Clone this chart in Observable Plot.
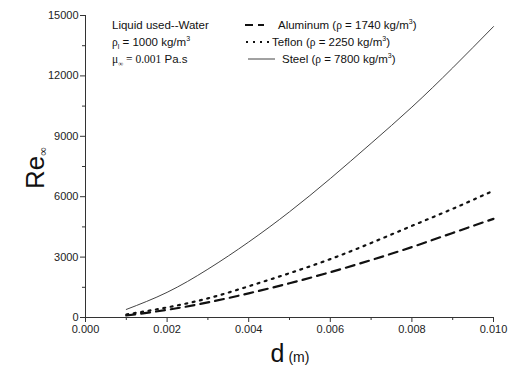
<!DOCTYPE html>
<html><head><meta charset="utf-8">
<script src="https://cdn.jsdelivr.net/npm/d3@7"></script>
<script src="https://cdn.jsdelivr.net/npm/@observablehq/plot@0.6"></script>
<style>
body{margin:0;background:#fff}
svg{font-family:"Liberation Sans",Arial,sans-serif}
</style>
</head><body><div id="chart"></div>
<script>
const diameters = [0.001, 0.002, 0.003, 0.004, 0.005, 0.006, 0.007, 0.008, 0.009, 0.010];
const aluminum = [100, 380, 750, 1200, 1700, 2250, 2850, 3500, 4200, 4900];
const teflon   = [150, 500, 950, 1550, 2200, 2900, 3700, 4550, 5400, 6300];
const steel    = [400, 1250, 2400, 3750, 5250, 6900, 8650, 10450, 12400, 14450];
const seriesNames = ["Aluminum", "Teflon", "Steel"];
const densities = ["1740", "2250", "7800"];
const yMajorTicks = [0, 3000, 6000, 9000, 12000, 15000];
const yMinorTicks = [1500, 4500, 7500, 10500, 13500];
const xMajorTicks = [0, 0.002, 0.004, 0.006, 0.008, 0.010];
const xMinorTicks = [0.001, 0.003, 0.005, 0.007, 0.009];

const rows = (vals, name) => diameters.map((d, i) => ({d, re: vals[i], series: name}));
const alRows = rows(aluminum, seriesNames[0]);
const tfRows = rows(teflon, seriesNames[1]);
const stRows = rows(steel, seriesNames[2]);

const plot = Plot.plot({
  width: 510, height: 375,
  marginLeft: 85, marginRight: 17, marginTop: 15, marginBottom: 58,
  style: {fontFamily: '"Liberation Sans", Arial, sans-serif', fontSize: "11px", color: "#222", background: "#fff"},
  x: {domain: [0, 0.010]},
  y: {domain: [0, 15000]},
  marks: [
    Plot.axisY({ticks: yMajorTicks, tickSize: 5, tickPadding: 2, tickFormat: d => String(d), label: null, stroke: "#333"}),
    Plot.axisY({ticks: yMinorTicks, tickSize: 3, tickFormat: () => "", label: null, stroke: "#333"}),
    Plot.axisX({ticks: xMajorTicks, tickSize: 5, tickPadding: 3, tickFormat: d3.format(".3f"), label: null, stroke: "#333"}),
    Plot.axisX({ticks: xMinorTicks, tickSize: 3, tickFormat: () => "", label: null, stroke: "#333"}),
    Plot.ruleX([0], {stroke: "#333", strokeWidth: 1}),
    Plot.ruleY([0], {stroke: "#333", strokeWidth: 1}),
    Plot.line(stRows, {x: "d", y: "re", stroke: "#444", strokeWidth: 1, curve: "natural"}),
    Plot.line(tfRows, {x: "d", y: "re", stroke: "#111", strokeWidth: 2.2, strokeDasharray: "2,5.5", curve: "natural"}),
    Plot.line(alRows, {x: "d", y: "re", stroke: "#111", strokeWidth: 2.2, strokeDasharray: "9,6", curve: "natural"})
  ]
});
document.getElementById("chart").appendChild(plot);

const svg = d3.select(plot);
const serif = '"Liberation Serif", "Times New Roman", serif';

// Axis titles
const xt = svg.append("text").attr("x", 290).attr("y", 362).attr("text-anchor", "middle").attr("fill", "#111");
xt.append("tspan").attr("font-size", 25).text("d");
xt.append("tspan").attr("font-size", 14).text(" (m)");

const yt = svg.append("text").attr("transform", "translate(44,168) rotate(-90)").attr("text-anchor", "middle").attr("fill", "#111");
yt.append("tspan").attr("font-size", 26).text("Re");
yt.append("tspan").attr("font-size", 12).attr("dy", 3).attr("font-family", serif).text("∞");

// Left info block
const g = svg.append("g").attr("font-size", 11.5).attr("fill", "#111").attr("text-anchor", "start");
g.append("text").attr("x", 112).attr("y", 29).text("Liquid used--Water");
const t2 = g.append("text").attr("x", 112).attr("y", 46);
t2.append("tspan").attr("font-family", serif).text("ρ");
t2.append("tspan").attr("font-size", 7).attr("dy", 3).text("l");
t2.append("tspan").attr("dy", -3).text(" = 1000 kg/m");
t2.append("tspan").attr("font-size", 7).attr("dy", -5).text("3");
const t3 = g.append("text").attr("x", 112).attr("y", 63);
t3.append("tspan").attr("font-family", serif).text("μ");
t3.append("tspan").attr("font-size", 7).attr("dy", 3).attr("font-family", serif).text("∞");
t3.append("tspan").attr("dy", -3).attr("font-family", serif).text(" = 0.001");
t3.append("tspan").text(" Pa.s");

// Series legend
const legend = [
  {y: 25, x1: 245, x2: 264, dash: "8,5", w: 2.2, c: "#111", tx: 278},
  {y: 42, x1: 246, x2: 270, dash: "2,5", w: 2.2, c: "#111", tx: 272},
  {y: 59, x1: 248, x2: 275, dash: null, w: 1, c: "#444", tx: 282}
];
legend.forEach((L, i) => {
  const ln = g.append("line").attr("x1", L.x1).attr("x2", L.x2).attr("y1", L.y).attr("y2", L.y)
    .attr("stroke", L.c).attr("stroke-width", L.w);
  if (L.dash) ln.attr("stroke-dasharray", L.dash);
  const t = g.append("text").attr("x", L.tx).attr("y", L.y + 4);
  t.append("tspan").text(seriesNames[i] + " (");
  t.append("tspan").attr("font-family", serif).text("ρ");
  t.append("tspan").text(" = " + densities[i] + " kg/m");
  t.append("tspan").attr("font-size", 7).attr("dy", -5).text("3");
  t.append("tspan").attr("dy", 5).text(")");
});
</script>
</body></html>
